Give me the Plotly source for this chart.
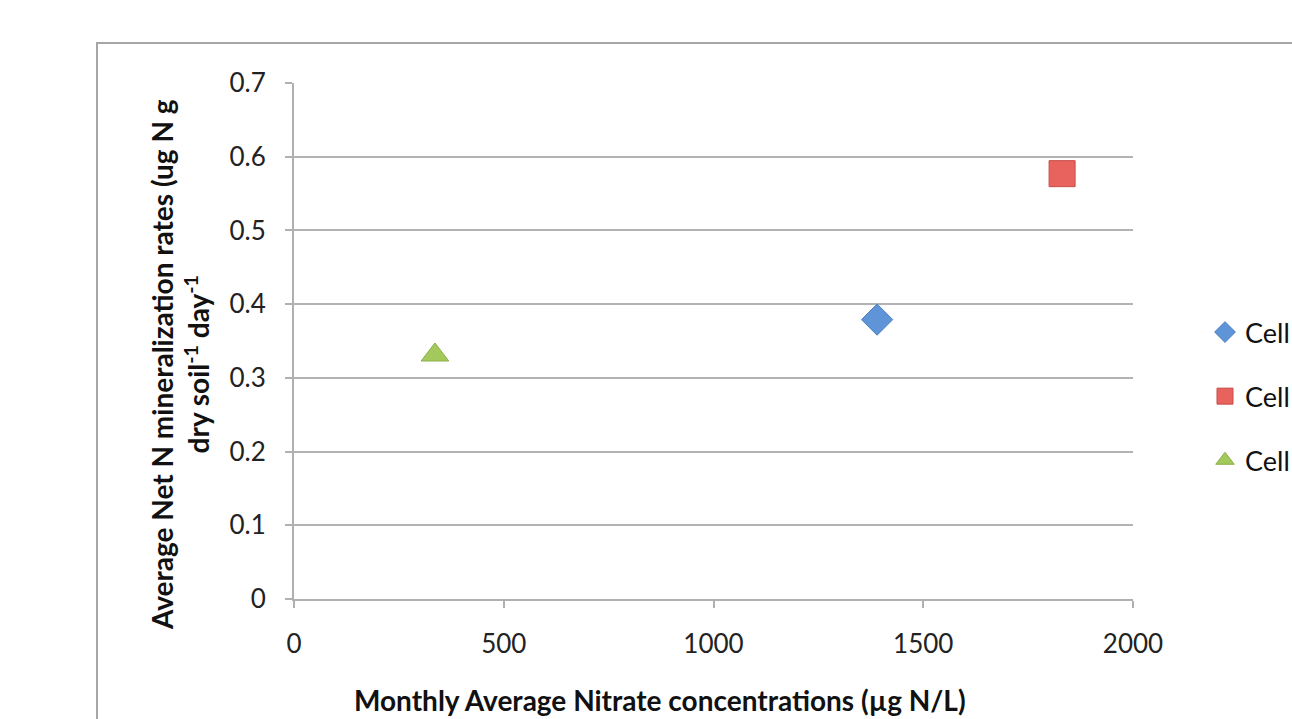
import plotly.graph_objects as go

# Data
series_names = ["Cell 1", "Cell 2", "Cell 3"]
nitrate = [1390, 1831, 336]
mineralization = [0.379, 0.577, 0.331]
symbols = ["diamond", "square", "triangle-up"]
colors = ["#5f95d8", "#e8625e", "#a3c95c"]
edge_colors = ["#4a7fc0", "#c94b48", "#8aaf46"]
x_ticks = [0, 500, 1000, 1500, 2000]
y_ticks = [0, 0.1, 0.2, 0.3, 0.4, 0.5, 0.6, 0.7]

W, H = 1292, 719
L, R, T, B = 294, W - 1133, 83, H - 599
pw, ph = W - L - R, H - T - B

FONT = "Lato, 'Open Sans', sans-serif"

fig = go.Figure()
for i in range(3):
    fig.add_trace(go.Scatter(
        x=[nitrate[i]], y=[mineralization[i]], mode="markers",
        name=series_names[i], legendgroup=f"g{i}",
        marker=dict(symbol=symbols[i], size=24 if i != 1 else 26,
                    color=colors[i], line=dict(color=edge_colors[i], width=1)),
    ))

def px_x(p):
    return (p - L) / pw

def px_y(p):
    return (H - B - p) / ph

fig.update_layout(
    width=W, height=H,
    margin=dict(l=L, r=R, t=T, b=B, autoexpand=False),
    paper_bgcolor="white", plot_bgcolor="white",
    font=dict(family=FONT, size=26, color="#222222"),
    showlegend=True,
    legend=dict(x=px_x(1205), y=px_y(308), xanchor="left", yanchor="top",
                font=dict(size=27, color="#111111"), tracegroupgap=26,
                bgcolor="rgba(0,0,0,0)"),
    xaxis=dict(range=[0, 2000], tickvals=x_ticks, ticktext=[str(v) for v in x_ticks],
               showgrid=False, zeroline=False, showline=True, linecolor="#b0b0b0", linewidth=2,
               ticks="outside", ticklen=7, tickcolor="#b0b0b0", tickwidth=2,
               ticklabelstandoff=14, tickfont=dict(size=26)),
    yaxis=dict(range=[0, 0.7], tickvals=y_ticks, ticktext=["0", "0.1", "0.2", "0.3", "0.4", "0.5", "0.6", "0.7"],
               showgrid=True, gridcolor="#b3b3b3", gridwidth=2,
               zeroline=False, showline=True, linecolor="#b0b0b0", linewidth=2,
               ticks="outside", ticklen=7, tickcolor="#b0b0b0", tickwidth=2,
               ticklabelstandoff=14, tickfont=dict(size=26)),
    shapes=[dict(type="rect", xref="paper", yref="paper",
                 x0=px_x(97), x1=px_x(1400), y0=px_y(800), y1=px_y(43),
                 line=dict(color="#a6a6a6", width=2), fillcolor="rgba(0,0,0,0)", layer="below")],
    annotations=[
        dict(text="<b>Monthly Average Nitrate concentrations (µg N/L)</b>",
             xref="paper", yref="paper", x=px_x(660), y=px_y(700),
             xanchor="center", yanchor="middle", showarrow=False,
             font=dict(size=28, color="#111111")),
        dict(text="<b>Average Net N mineralization rates (ug N g<br>dry soil<sup>-1</sup> day<sup>-1</sup></b>",
             xref="paper", yref="paper", x=px_x(180), y=px_y(365),
             xanchor="center", yanchor="middle", showarrow=False, textangle=-90,
             font=dict(size=28, color="#111111")),
    ],
)

fig.write_html("out.html")
